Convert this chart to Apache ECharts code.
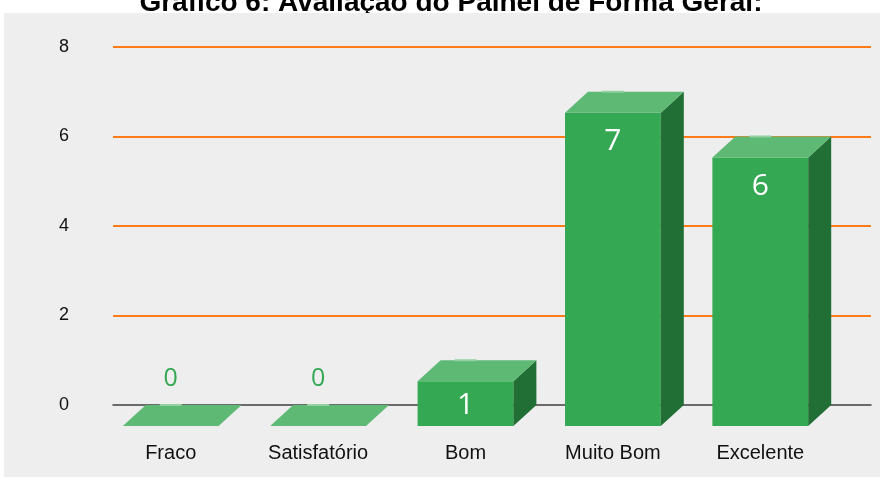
<!DOCTYPE html>
<html>
<head>
<meta charset="utf-8">
<script src="https://cdn.jsdelivr.net/npm/echarts@6/dist/echarts.min.js"></script>
<style>
  html, body { margin: 0; padding: 0; background: #fff; }
  #chart { width: 885px; height: 480px; }
</style>
</head>
<body>
<div id="chart"></div>
<script>
const titleText = 'Gráfico 6: Avaliação do Painel de Forma Geral:'
const categories = ['Fraco', 'Satisfatório', 'Bom', 'Muito Bom', 'Excelente']
const values = [0, 0, 1, 7, 6]
const yTicks = { min: 0, max: 8, interval: 2 }

// cores das faces da barra 3D
const FRONT = '#34a853'
const TOP = '#5eb975'
const SIDE = '#226f36'
const DX = 23
const DY = 21
const ORANGE = '#ff7b1a'

let chart = echarts.init(document.getElementById('chart'))

function renderBar(params, api) {
  let idx = api.value(0)
  let v = api.value(1)
  let top = api.coord([idx, v])
  let base = api.coord([idx, 0])
  let w = api.size([1, 0])[0] * 0.65
  let cx = top[0]
  let x0 = cx - w / 2
  let x1 = cx + w / 2
  let yb = base[1] + DY
  let yt = top[1] + DY
  let children = []
  if (v > 0) {
    children.push({
      type: 'rect',
      shape: { x: x0, y: yt, width: w, height: yb - yt },
      style: { fill: FRONT }
    })
    children.push({
      type: 'polygon',
      shape: { points: [[x1, yt], [x1 + DX, yt - DY], [x1 + DX, yb - DY], [x1, yb]] },
      style: { fill: SIDE }
    })
  }
  children.push({
    type: 'polygon',
    shape: { points: [[x0, yt], [x1, yt], [x1 + DX, yt - DY], [x0 + DX, yt - DY]] },
    style: { fill: TOP }
  })
  children.push({
    type: 'line',
    shape: { x1: cx - 11, y1: yt - DY, x2: cx + 11, y2: yt - DY },
    style: { stroke: '#93d1a2', lineWidth: 2 }
  })
  children.push({
    type: 'text',
    x: cx,
    y: v > 0 ? yt + Math.min(29, (yb - yt) / 2 + 1.5) : base[1] - 26,
    style: {
      text: String(v),
      fill: v > 0 ? '#ffffff' : FRONT,
      fontSize: v > 0 ? 30 : 25,
      fontFamily: 'Open Sans',
      align: 'center',
      verticalAlign: 'middle'
    }
  })
  return { type: 'group', children: children }
}

let option = {
  animation: false,
  backgroundColor: '#ffffff',
  graphic: [
    {
      type: 'text',
      x: 451,
      y: 3,
      z: 0,
      style: {
        text: titleText,
        fontSize: 28,
        fontWeight: 'bold',
        fontFamily: 'Liberation Sans',
        fill: '#000',
        align: 'center',
        verticalAlign: 'middle'
      }
    },
    {
      type: 'rect',
      z: 0,
      shape: { x: 4, y: 13, width: 876, height: 464 },
      style: { fill: '#eeeeee' }
    }
  ],
  grid: [
    { left: 113, right: 14, top: 47, bottom: 75 },
    { left: 97, width: 737, top: 47, bottom: 75 }
  ],
  xAxis: [
    {
      gridIndex: 0,
      type: 'value',
      min: 0,
      max: 1,
      axisLabel: { show: false },
      axisTick: { show: false },
      splitLine: { show: false },
      axisLine: { show: true, lineStyle: { color: '#404040', width: 1.5 } }
    },
    {
      gridIndex: 1,
      type: 'category',
      data: categories,
      axisLine: { show: false },
      axisTick: { show: false },
      axisLabel: {
        margin: 38,
        fontSize: 20,
        color: '#111',
        fontFamily: 'Liberation Sans'
      }
    }
  ],
  yAxis: [
    {
      gridIndex: 0,
      type: 'value',
      min: yTicks.min,
      max: yTicks.max,
      interval: yTicks.interval,
      axisLine: { show: false },
      axisTick: { show: false },
      axisLabel: { margin: 44, fontSize: 18, color: '#111', fontFamily: 'Liberation Sans' },
      splitLine: {
        lineStyle: { color: ['rgba(0,0,0,0)', ORANGE, ORANGE, ORANGE, ORANGE], width: 2 }
      }
    },
    {
      gridIndex: 1,
      type: 'value',
      min: yTicks.min,
      max: yTicks.max,
      show: false
    }
  ],
  series: [{
    type: 'custom',
    xAxisIndex: 1,
    yAxisIndex: 1,
    clip: false,
    renderItem: renderBar,
    data: values.map((v, i) => [i, v])
  }]
}

chart.setOption(option)
</script>
</body>
</html>
